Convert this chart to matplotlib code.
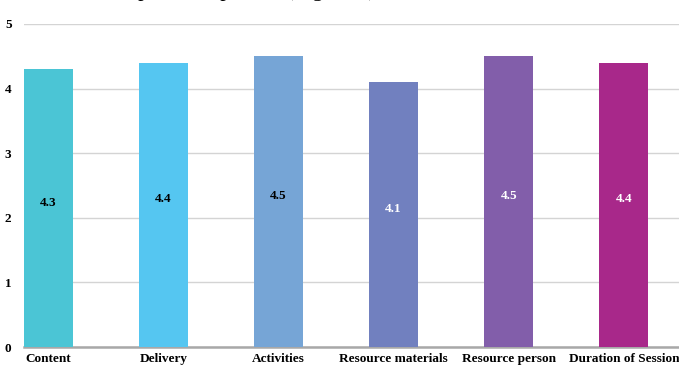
import matplotlib
matplotlib.use("Agg")
import matplotlib.pyplot as plt

categories = ["Content", "Delivery", "Activities", "Resource materials", "Resource person", "Duration of Session"]
values = [4.3, 4.4, 4.5, 4.1, 4.5, 4.4]
colors = ["#4BC5D5", "#55C6F1", "#76A5D6", "#7180BF", "#825EAA", "#A8288A"]
label_colors = ["black", "black", "black", "white", "white", "white"]
yticks = [0, 1, 2, 3, 4, 5]

plt.rcParams['font.family'] = ['Liberation Serif', 'DejaVu Serif']

fig = plt.figure(figsize=(6.79, 3.69), dpi=100)
ax = fig.add_axes([24/679, 1-347/369, 1-24/679, (347-24)/369])

x = list(range(len(categories)))
bars = ax.bar(x, values, width=0.426, color=colors, edgecolor="none", zorder=3)
for xi, v, lc in zip(x, values, label_colors):
    ax.text(xi, v * 0.52, f"{v}", ha="center", va="center", color=lc,
            fontsize=9.5, fontweight="bold", zorder=4)

ax.set_xlim(-0.213, 5.48)
ax.set_ylim(0, 5)
ax.set_yticks(yticks)
ax.set_yticklabels([str(t) for t in yticks], fontsize=9.5, fontweight="bold")
ax.set_xticks(x)
ax.set_xticklabels(categories, fontsize=9.5, fontweight="bold")
ax.tick_params(length=0, pad=4)
ax.tick_params(axis="y", pad=9)
ax.grid(axis="y", color="#d4d4d4", linewidth=1, zorder=0)
for s in ["top", "right", "left"]:
    ax.spines[s].set_visible(False)
ax.spines["bottom"].set_color("#a8a8a8")
ax.spines["bottom"].set_linewidth(1.8)

fig.text(80/679, 1 + 3.5/369, "Participants' responses (Figure 4)", fontsize=16,
         ha="left", va="baseline", color="black")

fig.savefig("out.png", dpi=100)
